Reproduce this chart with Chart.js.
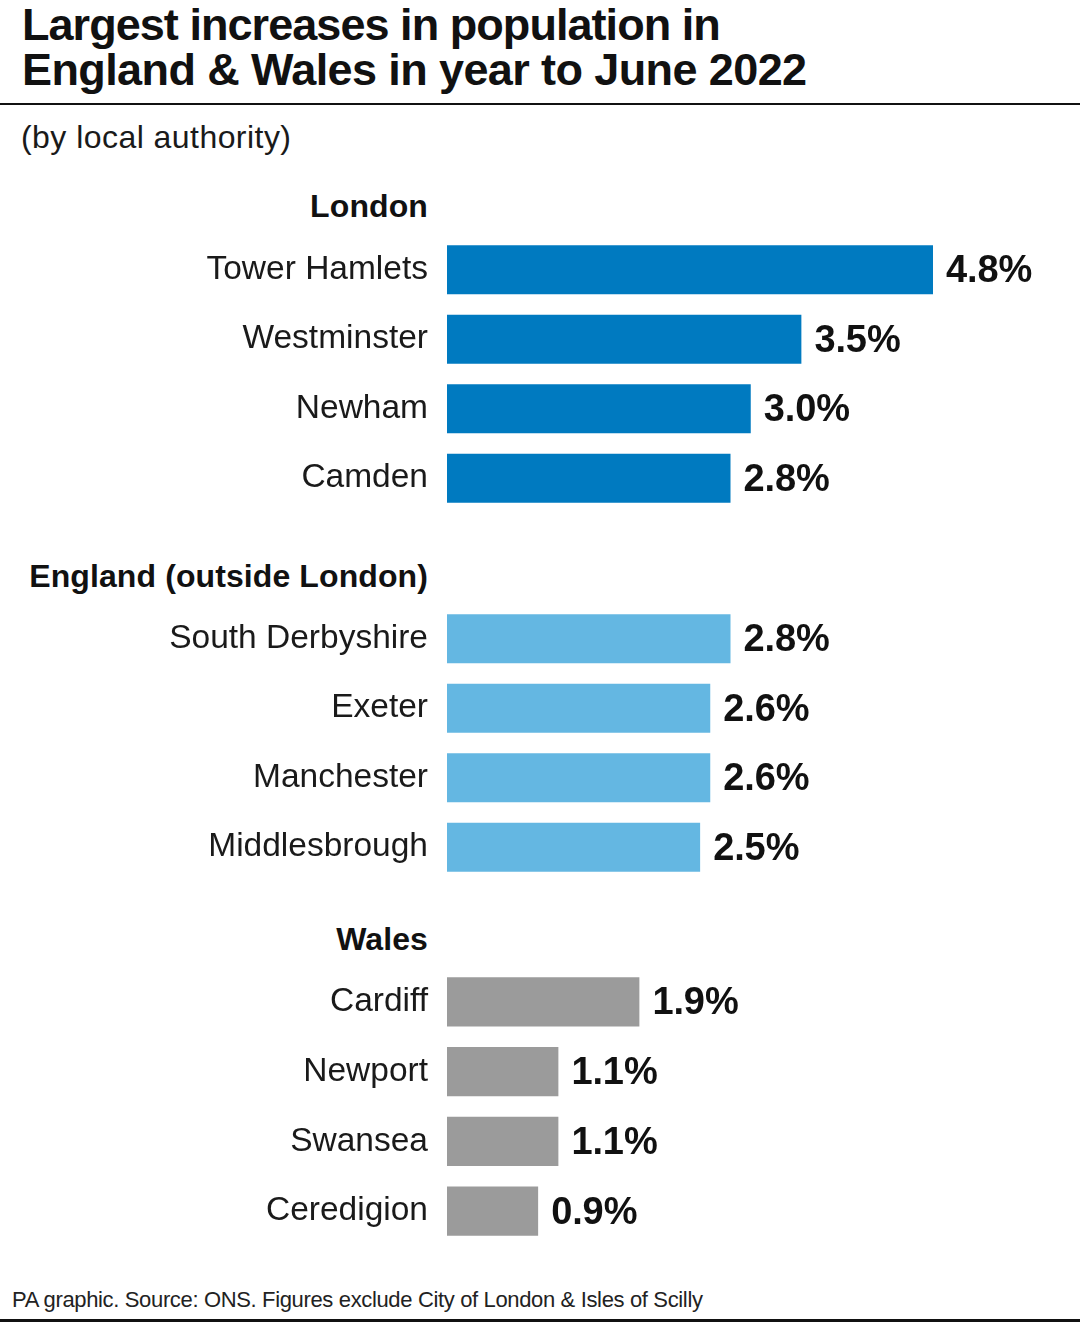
<!DOCTYPE html>
<html>
<head>
<meta charset="utf-8">
<script src="https://cdn.jsdelivr.net/npm/chart.js@4.4.1/dist/chart.umd.min.js"></script>
<style>
  html, body { margin:0; padding:0; background:#fff; }
  body { width:1080px; height:1324px; position:relative; overflow:hidden; font-family:"Liberation Sans", Arial, sans-serif; color:#111; }
  .abs { position:absolute; white-space:nowrap; }
  .title { left:22px; font-weight:bold; font-size:45px; line-height:45px; letter-spacing:-0.95px; color:#111; }
  .sub { left:21px; top:121px; font-size:32px; line-height:32px; letter-spacing:0.45px; color:#1a1a1a; }
  .hdr { right:652px; font-weight:bold; font-size:32px; line-height:32px; letter-spacing:0.1px; color:#111; text-align:right; }
  .foot { left:12px; top:1289px; font-size:22px; line-height:22px; letter-spacing:-0.35px; color:#222; }
  .rule { left:0; width:1080px; background:#111; }
  canvas { position:absolute; left:0; }
</style>
</head>
<body>
<div class="abs title" style="top:2px">Largest increases in population in</div>
<div class="abs title" style="top:47px;letter-spacing:-0.6px">England &amp; Wales in year to June 2022</div>
<div class="abs rule" style="top:103px;height:2px"></div>
<div class="abs sub">(by local authority)</div>
<div class="abs hdr" id="h0" style="top:190px"></div>
<div class="abs hdr" id="h1" style="top:560px"></div>
<div class="abs hdr" id="h2" style="top:923px"></div>
<canvas id="c0" width="1080" height="278" style="top:235px;width:1080px;height:278px"></canvas>
<canvas id="c1" width="1080" height="278" style="top:604px;width:1080px;height:278px"></canvas>
<canvas id="c2" width="1080" height="279" style="top:967px;width:1080px;height:279px"></canvas>
<div class="abs foot">PA graphic. Source: ONS. Figures exclude City of London &amp; Isles of Scilly</div>
<div class="abs rule" style="top:1319px;height:3px"></div>
<script>
// ---- data ----
const groupNames = ["London", "England (outside London)", "Wales"];
const londonAreas = ["Tower Hamlets", "Westminster", "Newham", "Camden"];
const londonValues = [4.8, 3.5, 3.0, 2.8];
const englandAreas = ["South Derbyshire", "Exeter", "Manchester", "Middlesbrough"];
const englandValues = [2.8, 2.6, 2.6, 2.5];
const walesAreas = ["Cardiff", "Newport", "Swansea", "Ceredigion"];
const walesValues = [1.9, 1.1, 1.1, 0.9];
const groupColors = ["#007ac0", "#64b7e2", "#9b9b9b"];

const groups = [
  { name: groupNames[0], labels: londonAreas, values: londonValues, color: groupColors[0] },
  { name: groupNames[1], labels: englandAreas, values: englandValues, color: groupColors[1] },
  { name: groupNames[2], labels: walesAreas, values: walesValues, color: groupColors[2] }
];

const VAL_FS = 38;
const valueLabels = {
  id: 'valueLabels',
  afterDatasetsDraw(chart) {
    const ctx = chart.ctx;
    const meta = chart.getDatasetMeta(0);
    const data = chart.data.datasets[0].data;
    ctx.save();
    ctx.font = 'bold ' + VAL_FS + 'px "Liberation Sans", Arial, sans-serif';
    try { ctx.letterSpacing = '-0.1px'; } catch (e) {}
    ctx.fillStyle = '#111';
    ctx.textAlign = 'left';
    ctx.textBaseline = 'alphabetic';
    meta.data.forEach((bar, i) => {
      ctx.fillText(data[i].toFixed(1) + '%', bar.x + 13, bar.y - 1 + 0.358 * VAL_FS);
    });
    ctx.restore();
  }
};

groups.forEach((g, gi) => {
  document.getElementById('h' + gi).textContent = g.name;
  new Chart(document.getElementById('c' + gi), {
    type: 'bar',
    data: {
      labels: g.labels,
      datasets: [{ data: g.values, backgroundColor: g.color, borderWidth: 0,
                   categoryPercentage: 1, barPercentage: 0.705 }]
    },
    options: {
      indexAxis: 'y',
      responsive: false,
      animation: false,
      events: [],
      layout: { padding: { left: 0, right: 25.5, top: 0, bottom: 0 } },
      plugins: { legend: { display: false }, tooltip: { enabled: false } },
      scales: {
        x: { type: 'linear', min: 0, max: 6, display: false },
        y: {
          grid: { display: false, drawTicks: false },
          border: { display: false },
          ticks: { padding: 19, color: '#1a1a1a',
                   font: { family: '"Liberation Sans", Arial, sans-serif', size: 33.5 } },
          afterFit(scale) {
            scale.width = 447;
            scale.paddingTop = 0;
            scale.paddingBottom = 0;
          }
        }
      }
    },
    plugins: [valueLabels]
  });
});
</script>
</body>
</html>
